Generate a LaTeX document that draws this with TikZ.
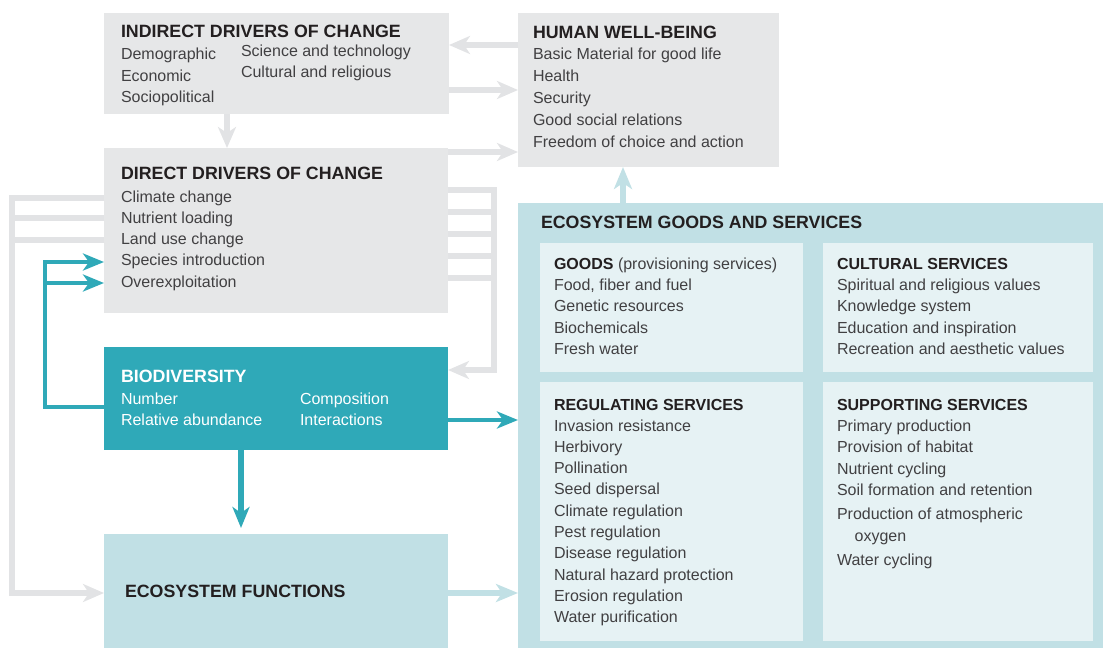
\documentclass[tikz,border=0pt]{standalone}
\usepackage{fontspec}
\setmainfont{Liberation Sans}
\usetikzlibrary{arrows.meta,calc}
\definecolor{boxgray}{HTML}{E6E7E8}
\definecolor{arrgray}{HTML}{E2E3E5}
\definecolor{bioteal}{HTML}{2FA9B8}
\definecolor{lteal}{HTML}{C1E0E5}
\definecolor{pteal}{HTML}{E6F2F4}
\definecolor{ttlc}{HTML}{231F20}
\definecolor{bodyc}{HTML}{414042}
\newcommand{\txtblock}[2][21.4]{\parbox[t]{300pt}{\fontsize{16}{#1}\selectfont\raggedright #2}}
\newcommand{\maintitle}[1]{\fontsize{17.8}{21}\selectfont\bfseries #1}
\newcommand{\subtitle}[1]{\fontsize{16}{21}\selectfont\bfseries #1}
\tikzset{
  boxr/.style={draw=none, inner sep=0pt, outer sep=0pt, anchor=north west},
  txt/.style={inner sep=0pt, outer sep=0pt, anchor=base west, text=bodyc},
  ttl/.style={txt, text=ttlc},
  gline/.style={draw=arrgray, line width=6pt, line join=miter},
  garr/.style={gline, -{Stealth[length=21pt,width=18pt,inset=6pt]}},
  tline/.style={draw=bioteal, line width=4.5pt, line join=miter},
  tarr/.style={tline, -{Stealth[length=21pt,width=17pt,inset=6pt]}},
  larr/.style={draw=lteal, line width=6pt, -{Stealth[length=22pt,width=18pt,inset=6pt]}}
}
\begin{document}
\begin{tikzpicture}[x=1pt,y=-1pt]
\useasboundingbox (0,0) rectangle (1103,648);
% boxes
\node[boxr, fill=boxgray, minimum width=345pt, minimum height=101pt] (ind) at (104,13) {};
\node[boxr, fill=boxgray, minimum width=261pt, minimum height=154pt] (hwb) at (518,13) {};
\node[boxr, fill=boxgray, minimum width=344pt, minimum height=165pt] (dir) at (104,148) {};
\node[boxr, fill=bioteal, minimum width=344pt, minimum height=103pt] (bio) at (104,347) {};
\node[boxr, fill=lteal, minimum width=344pt, minimum height=114pt] (fun) at (104,534) {};
\node[boxr, fill=lteal, minimum width=585pt, minimum height=445pt] (eco) at (518,203) {};
\node[boxr, fill=pteal, minimum width=263pt, minimum height=129pt] (goods) at (540,243) {};
\node[boxr, fill=pteal, minimum width=270pt, minimum height=129pt] (cult) at (823,243) {};
\node[boxr, fill=pteal, minimum width=263pt, minimum height=259pt] (reg) at (540,382) {};
\node[boxr, fill=pteal, minimum width=270pt, minimum height=259pt] (sup) at (823,382) {};
% texts
\node[ttl] (indT) at (121,37.5) {\maintitle{INDIRECT DRIVERS OF CHANGE}};
\node[txt] (indA) at (121,59.5) {\txtblock[21.5]{Demographic\\Economic\\Sociopolitical}};
\node[txt] (indB) at (241,56) {\txtblock[21.5]{Science and technology\\Cultural and religious}};
\node[ttl] (hwbT) at (533,38) {\maintitle{HUMAN WELL-BEING}};
\node[txt] (hwbA) at (533,59.5) {\txtblock[22]{Basic Material for good life\\Health\\Security\\Good social relations\\Freedom of choice and action}};
\node[ttl] (dirT) at (121,179.5) {\maintitle{DIRECT DRIVERS OF CHANGE}};
\node[txt] (dirA) at (121,202) {\txtblock[21.25]{Climate change\\Nutrient loading\\Land use change\\Species introduction\\Overexploitation}};
\node[ttl, text=white] (bioT) at (121,382.5) {\maintitle{BIODIVERSITY}};
\node[txt, text=white] (bioA) at (121,404) {\txtblock{Number\\Relative abundance}};
\node[txt, text=white] (bioB) at (300,404) {\txtblock{Composition\\Interactions}};
\node[ttl] (funT) at (125,597.5) {\maintitle{ECOSYSTEM FUNCTIONS}};
\node[ttl] (ecoT) at (541,228.5) {\maintitle{ECOSYSTEM GOODS AND SERVICES}};
\node[ttl] (goodsT) at (554,269) {\subtitle{GOODS}{\fontsize{16}{21}\selectfont\mdseries\color{bodyc}\ (provisioning services)}};
\node[txt] (goodsA) at (554,290.5) {\txtblock[21.3]{Food, fiber and fuel\\Genetic resources\\Biochemicals\\Fresh water}};
\node[ttl] (cultT) at (837,269) {\subtitle{CULTURAL SERVICES}};
\node[txt] (cultA) at (837,290.5) {\txtblock[21.3]{Spiritual and religious values\\Knowledge system\\Education and inspiration\\Recreation and aesthetic values}};
\node[ttl] (regT) at (554,410) {\subtitle{REGULATING SERVICES}};
\node[txt] (regA) at (554,431) {\txtblock[21.33]{Invasion resistance\\Herbivory\\Pollination\\Seed dispersal\\Climate regulation\\Pest regulation\\Disease regulation\\Natural hazard protection\\Erosion regulation\\Water purification}};
\node[ttl] (supT) at (837,410) {\subtitle{SUPPORTING SERVICES}};
\node[txt] (supA) at (837,431) {\txtblock[21.5]{Primary production\\Provision of habitat\\Nutrient cycling\\Soil formation and retention\\[2.5pt]Production of atmospheric\\\hspace*{1.1em}oxygen\\[2.5pt]Water cycling}};
% bus coordinates
\coordinate (lbus) at (12,0);
\coordinate (tbus) at (45,0);
\coordinate (rbus) at (494,0);
% gray connectors
\draw[garr] (hwb.west |- 0,45) -- (ind.east |- 0,45);
\draw[garr] (ind.east |- 0,90) -- (hwb.west |- 0,90);
\draw[garr] (ind.south -| 227,0) -- (dir.north -| 227,0);
\draw[garr] (dir.east |- 0,152) -- (hwb.west |- 0,152);
\draw[garr] (dir.east |- 0,190) -- (rbus |- 0,190) -- (rbus |- 0,370) -- (bio.east |- 0,370);
\foreach \yy in {212,234,256,278} \draw[gline] (dir.east |- 0,\yy) -- (rbus |- 0,\yy);
\draw[garr] (dir.west |- 0,198) -- (lbus |- 0,198) -- (lbus |- 0,593) -- (fun.west |- 0,593);
\foreach \yy in {218,240} \draw[gline] (dir.west |- 0,\yy) -- (lbus |- 0,\yy);
% teal connectors
\draw[tarr] (bio.west |- 0,407) -- (tbus |- 0,407) -- (tbus |- 0,262) -- (dir.west |- 0,262);
\draw[tarr] (tbus |- 0,283) -- (dir.west |- 0,283);
\draw[tarr] (bio.east |- 0,420) -- (eco.west |- 0,420);
\draw[tarr, line width=5.5pt] (bio.south -| 241,0) -- ($(fun.north -| 241,0)+(0,-6)$);
% light teal connectors
\draw[larr] (fun.east |- 0,593) -- (eco.west |- 0,593);
\draw[larr] (eco.north -| 623,0) -- (hwb.south -| 623,0);
\end{tikzpicture}
\end{document}
